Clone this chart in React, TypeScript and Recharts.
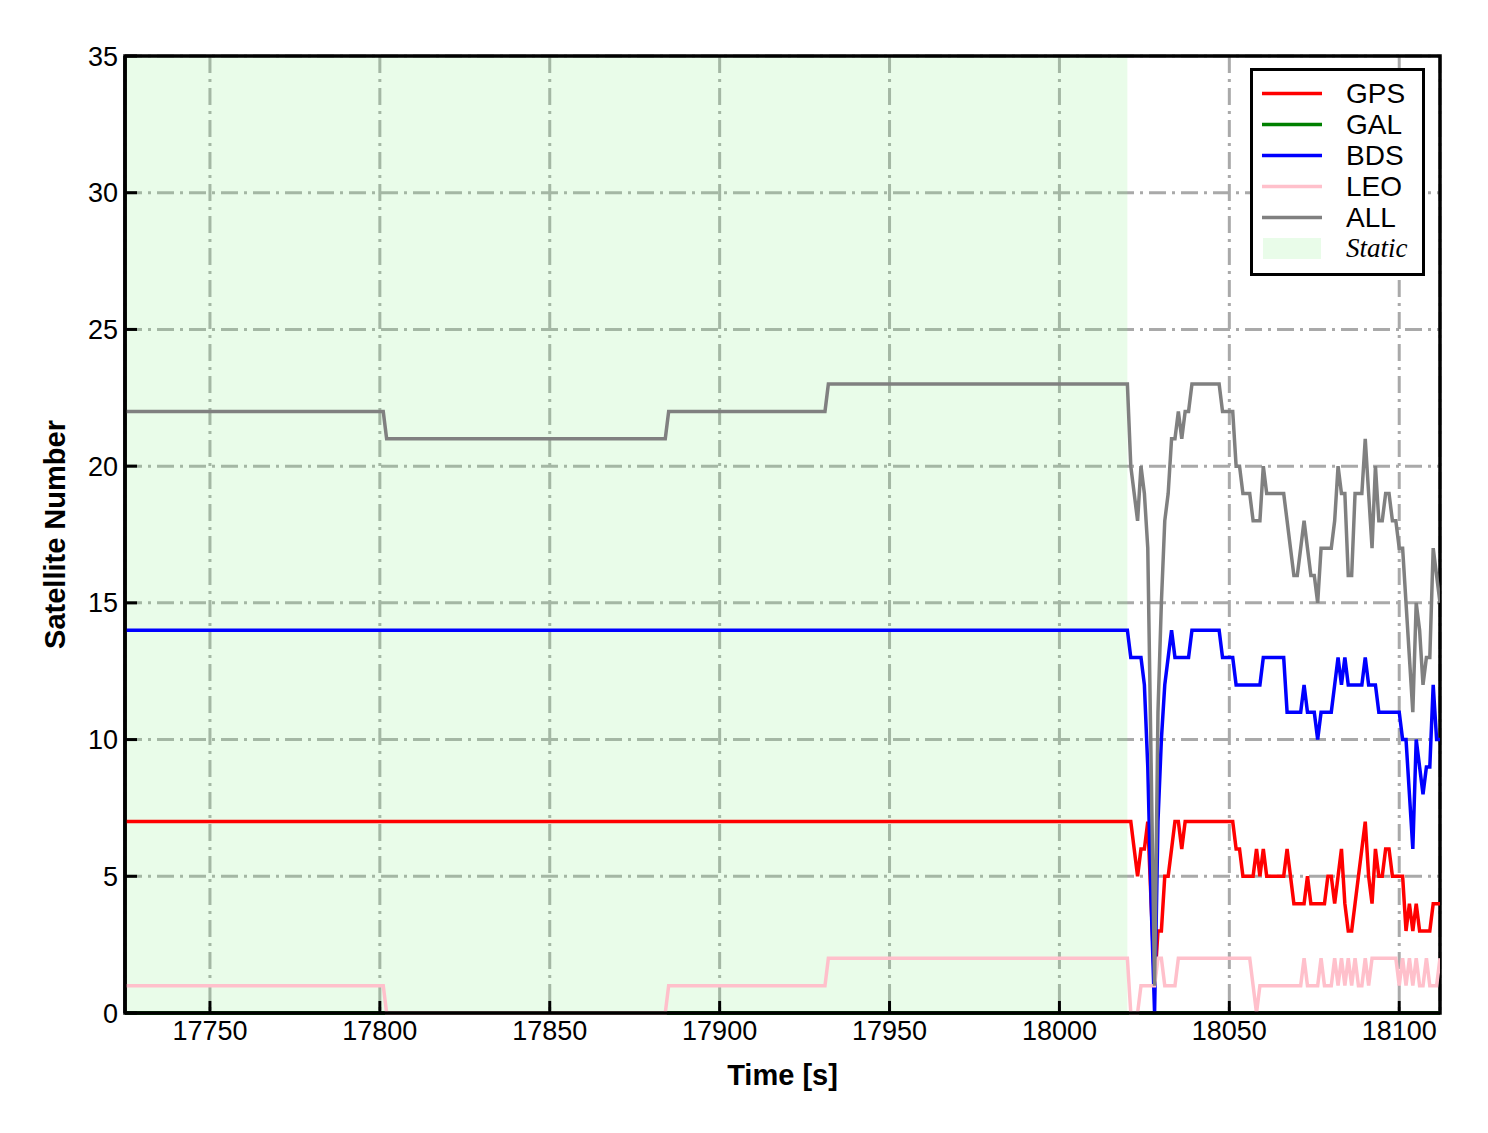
import { LineChart, Line, XAxis, YAxis, CartesianGrid, ReferenceArea, Legend } from "recharts";

const FONT = "'Liberation Sans', Arial, sans-serif";

// time stamps [s]; before 18020 only the change points are listed
const TIME = [
  17725, 17801, 17802, 17884, 17885, 17931, 17932, 18020,
  18021, 18022, 18023, 18024, 18025, 18026, 18027, 18028, 18029, 18030,
  18031, 18032, 18033, 18034, 18035, 18036, 18037, 18038, 18039, 18040,
  18041, 18042, 18043, 18044, 18045, 18046, 18047, 18048, 18049, 18050,
  18051, 18052, 18053, 18054, 18055, 18056, 18057, 18058, 18059, 18060,
  18061, 18062, 18063, 18064, 18065, 18066, 18067, 18068, 18069, 18070,
  18071, 18072, 18073, 18074, 18075, 18076, 18077, 18078, 18079, 18080,
  18081, 18082, 18083, 18084, 18085, 18086, 18087, 18088, 18089, 18090,
  18091, 18092, 18093, 18094, 18095, 18096, 18097, 18098, 18099, 18100,
  18101, 18102, 18103, 18104, 18105, 18106, 18107, 18108, 18109, 18110,
  18111, 18112,
];

const GPS = [
  7, 7, 7, 7, 7, 7, 7, 7,
  7, 6, 5, 6, 6, 7, 4, 1, 3, 3,
  5, 5, 6, 7, 7, 6, 7, 7, 7, 7,
  7, 7, 7, 7, 7, 7, 7, 7, 7, 7,
  7, 6, 6, 5, 5, 5, 5, 6, 5, 6,
  5, 5, 5, 5, 5, 5, 6, 5, 4, 4,
  4, 4, 5, 4, 4, 4, 4, 4, 5, 5,
  4, 5, 6, 4, 3, 3, 4, 5, 6, 7,
  5, 4, 6, 5, 5, 6, 6, 5, 5, 5,
  5, 3, 4, 3, 4, 3, 3, 3, 3, 4,
  4, 4,
];

const GAL = [
  0, 0, 0, 0, 0, 0, 0, 0,
  0, 0, 0, 0, 0, 0, 0, 0, 0, 0,
  0, 0, 0, 0, 0, 0, 0, 0, 0, 0,
  0, 0, 0, 0, 0, 0, 0, 0, 0, 0,
  0, 0, 0, 0, 0, 0, 0, 0, 0, 0,
  0, 0, 0, 0, 0, 0, 0, 0, 0, 0,
  0, 0, 0, 0, 0, 0, 0, 0, 0, 0,
  0, 0, 0, 0, 0, 0, 0, 0, 0, 0,
  0, 0, 0, 0, 0, 0, 0, 0, 0, 0,
  0, 0, 0, 0, 0, 0, 0, 0, 0, 0,
  0, 0,
];

const BDS = [
  14, 14, 14, 14, 14, 14, 14, 14,
  13, 13, 13, 13, 12, 9, 4, 0, 7, 10,
  12, 13, 14, 13, 13, 13, 13, 13, 14, 14,
  14, 14, 14, 14, 14, 14, 14, 13, 13, 13,
  13, 12, 12, 12, 12, 12, 12, 12, 12, 13,
  13, 13, 13, 13, 13, 13, 11, 11, 11, 11,
  11, 12, 11, 11, 11, 10, 11, 11, 11, 11,
  12, 13, 12, 13, 12, 12, 12, 12, 12, 13,
  12, 12, 12, 11, 11, 11, 11, 11, 11, 11,
  10, 10, 8, 6, 10, 9, 8, 9, 9, 12,
  10, 10,
];

const LEO = [
  1, 1, 0, 0, 1, 1, 2, 2,
  0, 0, 0, 1, 1, 1, 1, 1, 2, 2,
  1, 1, 1, 1, 2, 2, 2, 2, 2, 2,
  2, 2, 2, 2, 2, 2, 2, 2, 2, 2,
  2, 2, 2, 2, 2, 2, 1, 0, 1, 1,
  1, 1, 1, 1, 1, 1, 1, 1, 1, 1,
  1, 2, 1, 1, 1, 1, 2, 1, 1, 1,
  2, 1, 2, 1, 2, 1, 2, 1, 1, 2,
  1, 2, 2, 2, 2, 2, 2, 2, 2, 1,
  2, 1, 2, 1, 2, 1, 1, 2, 1, 1,
  1, 2,
];

const ALL = [
  22, 22, 21, 21, 22, 22, 23, 23,
  20, 19, 18, 20, 19, 17, 9, 1, 11, 15,
  18, 19, 21, 21, 22, 21, 22, 22, 23, 23,
  23, 23, 23, 23, 23, 23, 23, 22, 22, 22,
  22, 20, 20, 19, 19, 19, 18, 18, 18, 20,
  19, 19, 19, 19, 19, 19, 18, 17, 16, 16,
  17, 18, 17, 16, 16, 15, 17, 17, 17, 17,
  18, 20, 19, 19, 16, 16, 19, 19, 19, 21,
  19, 17, 20, 18, 18, 19, 19, 18, 18, 17,
  17, 15, 13, 11, 15, 14, 12, 13, 13, 17,
  16, 15,
];

const X_TICKS = [17750, 17800, 17850, 17900, 17950, 18000, 18050, 18100];
const Y_TICKS = [0, 5, 10, 15, 20, 25, 30, 35];
const X_RANGE = [17725, 18112];
const STATIC_RANGE = [17725, 18020];

const SERIES = [
  { key: "gps", name: "GPS", color: "#ff0000" },
  { key: "gal", name: "GAL", color: "#008000" },
  { key: "bds", name: "BDS", color: "#0000ff" },
  { key: "leo", name: "LEO", color: "#ffc0cb" },
  { key: "all", name: "ALL", color: "#808080" },
];

const data = TIME.map((t, i) => ({
  t,
  gps: GPS[i],
  gal: GAL[i],
  bds: BDS[i],
  leo: LEO[i],
  all: ALL[i],
}));

const XTick = (props: any) => {
  const { x, y, payload } = props;
  return (
    <g>
      <line x1={x} x2={x} y1={y} y2={y - 12} stroke="#000" strokeWidth={3} />
      <text x={x} y={y + 27} textAnchor="middle" fontSize={27} fontFamily={FONT} fill="#000">
        {payload.value}
      </text>
    </g>
  );
};

const YTick = (props: any) => {
  const { x, y, payload } = props;
  return (
    <g>
      <line x1={x} x2={x + 12} y1={y} y2={y} stroke="#000" strokeWidth={3} />
      <text x={x - 7} y={y + 9.5} textAnchor="end" fontSize={27} fontFamily={FONT} fill="#000">
        {payload.value}
      </text>
    </g>
  );
};

const LegendBox = () => (
  <div
    style={{
      border: "3px solid #000",
      background: "#fff",
      width: 169,
      padding: "7px 0 9px 0",
      fontFamily: FONT,
      color: "#000",
    }}
  >
    {SERIES.map((s) => (
      <div key={s.key} style={{ display: "flex", alignItems: "center", height: 31 }}>
        <svg width={93} height={31} style={{ display: "block" }}>
          <line x1={9} x2={69} y1={15.5} y2={15.5} stroke={s.color} strokeWidth={3.5} />
        </svg>
        <span style={{ fontSize: 28, lineHeight: "31px" }}>{s.name}</span>
      </div>
    ))}
    <div style={{ display: "flex", alignItems: "center", height: 31 }}>
      <svg width={93} height={31} style={{ display: "block" }}>
        <rect x={10} y={5} width={58} height={21} fill="#90ee90" fillOpacity={0.2} />
      </svg>
      <span
        style={{
          fontSize: 27,
          lineHeight: "31px",
          fontStyle: "italic",
          fontFamily: "'Liberation Serif', 'Times New Roman', serif",
        }}
      >
        Static
      </span>
    </div>
  </div>
);

export default function App() {
  return (
    <div style={{ position: "absolute", left: 0, top: 0, background: "#fff" }}>
      <LineChart
        width={1488}
        height={1133}
        data={data}
        margin={{ top: 56, right: 48, bottom: 40, left: 35 }}
      >
        <ReferenceArea
          x1={STATIC_RANGE[0]}
          x2={STATIC_RANGE[1]}
          y1={0}
          y2={35}
          fill="#90ee90"
          fillOpacity={0.2}
          stroke="none"
          ifOverflow="hidden"
        />
        <CartesianGrid stroke="#a9a9a9" strokeWidth={3} strokeDasharray="17 6 3 6" />
        <ReferenceArea
          x1={X_RANGE[0]}
          x2={X_RANGE[1]}
          y1={0}
          y2={35}
          fill="none"
          stroke="#000"
          strokeWidth={3.5}
          ifOverflow="visible"
        />
        <XAxis
          dataKey="t"
          type="number"
          domain={X_RANGE}
          ticks={X_TICKS}
          allowDataOverflow
          height={80}
          tickSize={0}
          tickMargin={0}
          tick={<XTick />}
          axisLine={{ stroke: "#000", strokeWidth: 3.5 }}
          label={{
            value: "Time [s]",
            position: "insideBottom",
            offset: 8,
            style: { fontSize: 29, fontWeight: "bold", fontFamily: FONT, fill: "#000" },
          }}
        />
        <YAxis
          type="number"
          domain={[0, 35]}
          ticks={Y_TICKS}
          width={90}
          tickSize={0}
          tickMargin={0}
          tick={<YTick />}
          axisLine={{ stroke: "#000", strokeWidth: 3.5 }}
          label={{
            value: "Satellite Number",
            angle: -90,
            position: "insideLeft",
            offset: 20,
            style: {
              textAnchor: "middle",
              fontSize: 29,
              fontWeight: "bold",
              fontFamily: FONT,
              fill: "#000",
            },
          }}
        />
        {SERIES.map((s) => (
          <Line
            key={s.key}
            type="linear"
            dataKey={s.key}
            name={s.name}
            stroke={s.color}
            strokeWidth={3.5}
            dot={false}
            activeDot={false}
            isAnimationActive={false}
          />
        ))}
        <Legend
          layout="vertical"
          align="center"
          verticalAlign="middle"
          content={<LegendBox />}
          wrapperStyle={{ left: 1250, top: 68, width: 175, bottom: "auto", right: "auto" }}
        />
      </LineChart>
    </div>
  );
}
